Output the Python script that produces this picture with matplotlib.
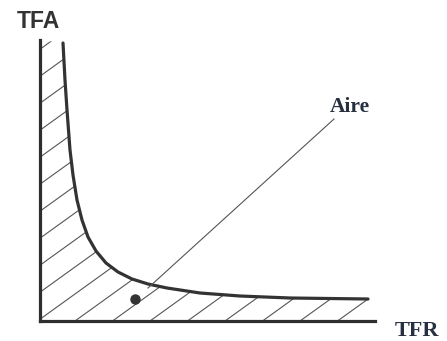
import numpy as np
import matplotlib
matplotlib.use("Agg")
import matplotlib.pyplot as plt
from matplotlib.patches import Polygon
from matplotlib.collections import LineCollection

# ---- data (chart units: TFR along x, TFA along y) ----
curve_tfr = [23, 25, 27, 30, 33, 37, 42, 48, 56, 66, 78, 92, 108, 127, 160, 200, 250, 328]
curve_tfa = [278, 241, 211, 171, 146, 121, 101, 84, 70, 58, 49, 42, 37, 33, 28, 25, 23, 22]
point_tfr = [95]
point_tfa = [22]
aire_line_tfr = [108, 294]
aire_line_tfa = [33, 202]
x_label = "TFR"
y_label = "TFA"
area_label = "Aire"

W, H = 447, 341
fig = plt.figure(figsize=(W / 100, H / 100), dpi=100)
fig.patch.set_facecolor("white")
ax = fig.add_axes([40 / W, 20 / H, 335 / W, 281 / H])
ax.set_xlim(0, 335)
ax.set_ylim(0, 281)
ax.set_xticks([])
ax.set_yticks([])
for s in ["top", "right"]:
    ax.spines[s].set_visible(False)
for s in ["left", "bottom"]:
    ax.spines[s].set_linewidth(2.3)
    ax.spines[s].set_color("#2e2e2e")

# hatched area under the curve
verts = [(0, 0), (0, 281)] + list(zip(curve_tfr, curve_tfa)) + [(335, 22), (335, 0)]
poly = Polygon(verts, closed=True, facecolor="none", edgecolor="none")
ax.add_patch(poly)
slope = 0.72
segs = []
for c in np.arange(-335 * slope, 300, 27):
    segs.append([(0, c), (335, c + slope * 335)])
lc = LineCollection(segs, colors="#555555", linewidths=0.8)
ax.add_collection(lc)
lc.set_clip_path(poly)

# curve
ax.plot(curve_tfr, curve_tfa, color="#333333", lw=2.3, solid_capstyle="round",
        solid_joinstyle="round", clip_on=False)

# annotation line and dot
ax.plot(aire_line_tfr, aire_line_tfa, color="#555555", lw=0.8)
ax.plot(point_tfr, point_tfa, "o", color="#333333", ms=6.5)

# labels
ax.text(290, 209, area_label, fontfamily="Liberation Serif", fontweight="bold",
        fontsize=15.5, color="#263040", ha="left", va="baseline")
fig.text(38 / W, (H - 28) / H, y_label, fontfamily="Liberation Sans", fontweight="bold",
         fontsize=16.5, color="#333333", ha="center", va="baseline")
fig.text(395 / W, (H - 336) / H, x_label, fontfamily="Liberation Serif", fontweight="bold",
         fontsize=16, color="#263040", ha="left", va="baseline")

fig.savefig("out.png", dpi=100, facecolor="white")
